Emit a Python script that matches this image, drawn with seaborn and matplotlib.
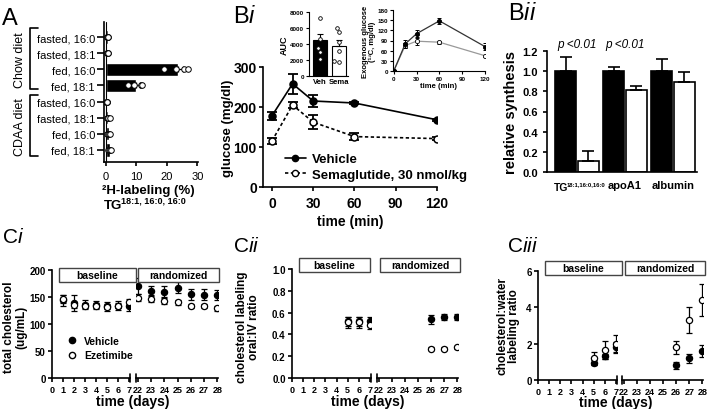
import numpy as np
import pandas as pd
import matplotlib
matplotlib.use("Agg")
import matplotlib.pyplot as plt
import seaborn as sns
from matplotlib.patches import Rectangle
from matplotlib.lines import Line2D

# ---------------- data ----------------
# Panel A
A_labels = ["fasted, 16:0", "fasted, 18:1", "fed, 16:0", "fed, 18:1"]
A_diets = ["Chow diet", "CDAA diet"]
A_chow_pts = [[0.2, 0.4, 0.6, 0.8], [0.2, 0.3, 0.5, 0.7],
              [19.2, 23.0, 25.5, 27.0], [7.1, 9.3, 11.5, 11.8]]
A_cdaa_pts = [[0.1, 0.2, 0.3, 0.4], [0.3, 0.5, 0.8, 1.2],
              [0.4, 0.7, 1.0, 1.4], [0.6, 0.9, 1.3, 1.8]]

# Panel Bi main
bi_time = [0, 15, 30, 60, 120]
bi_veh = [178, 258, 215, 210, 168]
bi_veh_err = [10, 25, 15, 3, 3]
bi_sema = [115, 205, 162, 126, 121]
bi_sema_err = [8, 8, 17, 8, 3]

# Bi inset AUC
auc_groups = ["Veh", "Sema"]
auc_mean = [4500, 3800]
auc_sem = [700, 650]
auc_veh_pts = [7200, 4600, 3500, 3000, 2100]
auc_sema_pts = [6000, 5500, 4200, 3100, 1900, 1800]

# Bi inset exogenous glucose
exo_time = [0, 15, 30, 60, 120]
exo_veh = [0, 80, 110, 148, 72]
exo_veh_err = [0, 12, 12, 9, 10]
exo_sema = [0, 75, 88, 85, 45]
exo_sema_err = [0, 8, 12, 4, 3]

# Panel Bii
bii_cats = ["TG", "apoA1", "albumin"]
bii_veh = [1.0, 1.0, 1.0]
bii_veh_err = [0.14, 0.04, 0.12]
bii_sema = [0.11, 0.81, 0.89]
bii_sema_err = [0.10, 0.04, 0.10]

# Panel Ci
ci_days = [1, 2, 3, 4, 5, 6, 7, 22, 23, 24, 25, 26, 27, 28]
ci_veh = [144, 139, 136, 135, 133, 134, 133, 171, 161, 160, 167, 155, 154, 154]
ci_veh_err = [10, 14, 8, 8, 8, 8, 8, 15, 10, 10, 10, 10, 10, 9]
ci_eze = [146, 135, 134, 134, 132, 134, 141, 149, 147, 143, 140, 133, 133, 129]
ci_eze_err = [8, 6, 5, 5, 5, 5, 5, 6, 6, 6, 5, 4, 4, 4]

# Panel Cii
cii_days = [5, 6, 7, 26, 27, 28]
cii_veh = [0.52, 0.52, 0.52, 0.54, 0.56, 0.56]
cii_veh_err = [0.04, 0.04, 0.04, 0.04, 0.03, 0.03]
cii_eze = [0.51, 0.51, 0.49, 0.27, 0.27, 0.28]
cii_eze_err = [0.05, 0.05, 0.04, 0.01, 0.01, 0.01]

# Panel Ciii
ciii_days = [5, 6, 7, 26, 27, 28]
ciii_veh = [0.95, 1.3, 1.8, 0.8, 1.2, 1.6]
ciii_veh_err = [0.15, 0.15, 0.3, 0.2, 0.25, 0.35]
ciii_eze = [1.2, 1.65, 2.0, 1.8, 3.3, 4.4]
ciii_eze_err = [0.35, 0.5, 0.45, 0.35, 0.7, 0.9]

# ---------------- style ----------------
sns.set_theme(style="ticks", rc={
    "axes.edgecolor": "black", "axes.linewidth": 1.2,
    "xtick.color": "black", "ytick.color": "black",
    "xtick.major.width": 1.2, "ytick.major.width": 1.2,
    "xtick.major.size": 3, "ytick.major.size": 3,
    "text.color": "black", "axes.labelcolor": "black",
})
plt.rcParams["font.family"] = ["Liberation Sans", "DejaVu Sans"]
plt.rcParams["mathtext.fontset"] = "custom"
plt.rcParams["mathtext.rm"] = "Liberation Sans"
plt.rcParams["mathtext.it"] = "Liberation Sans:italic"

W, H = 709, 410
fig = plt.figure(figsize=(7.09, 4.10), dpi=100)


def add_axes_px(l, t, r, b):
    return fig.add_axes([l / W, 1 - b / H, (r - l) / W, (b - t) / H])


def fline(xs, ys, lw=1.2, color="black"):
    fig.add_artist(Line2D([x / W for x in xs], [1 - y / H for y in ys],
                          transform=fig.transFigure, color=color, lw=lw))


def ftext(x, y, s, **kw):
    return fig.text(x / W, 1 - y / H, s, **kw)


def fbox(l, t, r, b, s):
    fig.add_artist(Rectangle((l / W, 1 - b / H), (r - l) / W, (b - t) / H,
                             transform=fig.transFigure, facecolor="white",
                             edgecolor="#444444", lw=1.0, zorder=5))
    ftext((l + r) / 2, (t + b) / 2, s, ha="center", va="center",
          fontsize=7.5, fontweight="bold", zorder=6)


def bold_ticks(ax, size):
    for lab in ax.get_xticklabels() + ax.get_yticklabels():
        lab.set_fontweight("bold")
        lab.set_fontsize(size)


# ---------------- Panel A ----------------
rows = []
for diet, pts in zip(A_diets, [A_chow_pts, A_cdaa_pts]):
    for lab, p in zip(A_labels, pts):
        for v in p:
            rows.append((f"{diet}|{lab}", v))
dfA = pd.DataFrame(rows, columns=["row", "val"])
orderA = [f"{d}|{l}" for d in A_diets for l in A_labels]

axA = add_axes_px(104, 23, 198, 163)
sns.barplot(data=dfA, x="val", y="row", order=orderA, orient="h", color="black",
            errorbar=None, width=0.82, saturation=1, ax=axA)
statsA = dfA.groupby("row")["val"].agg(["mean", "sem"]).reindex(orderA)
axA.errorbar(statsA["mean"], np.arange(len(orderA)),
             xerr=[np.zeros(len(orderA)), statsA["sem"]], fmt="none",
             ecolor="black", elinewidth=0.9, capsize=2.5, capthick=0.9, zorder=3)
sns.stripplot(data=dfA, x="val", y="row", order=orderA, orient="h", jitter=False,
              color="white", edgecolor="black", linewidth=0.7, size=4,
              ax=axA, zorder=4)
axA.axvline(0, color="black", lw=0.8)
axA.set_ylim(7.75, -0.93)
axA.set_xlim(-0.66, 30.2)
axA.set_yticks(range(len(orderA)))
axA.set_yticklabels(A_labels * 2, fontsize=8)
axA.set_xticks([0, 10, 20, 30])
axA.tick_params(axis="x", labelsize=8)
axA.tick_params(axis="y", length=5, pad=1.5)
axA.set_xlabel("")
axA.set_ylabel("")
sns.despine(ax=axA)
ftext(148, 191, "\u00b2H-labeling (%)", ha="center", va="center", fontsize=9.5,
      fontweight="bold")
ftext(104, 206, "TG", ha="left", va="center", fontsize=9.5, fontweight="bold")
ftext(121, 201, "18:1, 16:0, 16:0", ha="left", va="center", fontsize=6.5,
      fontweight="bold")
# diet brackets
fline([38, 30, 30, 38], [29, 29, 90, 90])
fline([38, 30, 30, 38], [96, 96, 157, 157])
ftext(20, 60, "Chow diet", rotation=90, ha="center", va="center", fontsize=9)
ftext(20, 127, "CDAA diet", rotation=90, ha="center", va="center", fontsize=9)
ftext(2, 25, "A", fontsize=17, ha="left", va="baseline")

# ---------------- Panel Bi main ----------------
dfBi = pd.DataFrame({
    "time": bi_time * 2,
    "glucose": bi_veh + bi_sema,
    "err": bi_veh_err + bi_sema_err,
    "group": ["Vehicle"] * len(bi_time) + ["Semaglutide, 30 nmol/kg"] * len(bi_time),
})
axBi = add_axes_px(263, 68, 437, 188)
styles = {"Vehicle": ("-", "black"), "Semaglutide, 30 nmol/kg": ((0, (2, 1.5)), "white")}
for grp, (ls, mfc) in styles.items():
    d = dfBi[dfBi.group == grp]
    axBi.errorbar(d.time, d.glucose, yerr=d.err, fmt="none", ecolor="black",
                  elinewidth=1.3, capsize=3.5, capthick=1.3, zorder=2)
    sns.lineplot(data=d, x="time", y="glucose", color="black", lw=1.2,
                 linestyle=ls, marker="o", markersize=5, markerfacecolor=mfc,
                 markeredgecolor="black", markeredgewidth=1.1, errorbar=None,
                 ax=axBi, legend=False, zorder=3)
axBi.set_xlim(-6.5, 120)
axBi.set_ylim(0, 300)
axBi.set_xticks([0, 30, 60, 90, 120])
axBi.set_yticks([0, 100, 200, 300])
bold_ticks(axBi, 10)
axBi.tick_params(axis="y", pad=1.5)
axBi.set_xlabel("time (min)", fontsize=10, fontweight="bold", labelpad=3)
axBi.set_ylabel("glucose (mg/dl)", fontsize=9.5, fontweight="bold", labelpad=0)
sns.despine(ax=axBi)
h1 = Line2D([], [], color="black", lw=1.2, marker="o", markersize=4.5,
            markerfacecolor="black")
h2 = Line2D([], [], color="black", lw=1.2, linestyle=(0, (2, 1.5)), marker="o",
            markersize=4.5, markerfacecolor="white")
fig.legend([h1, h2], ["Vehicle", "Semaglutide, 30 nmol/kg"], loc="center left",
           bbox_to_anchor=(278 / W, 1 - 168 / H), frameon=False,
           prop={"weight": "bold", "size": 9.5}, handlelength=1.6,
           handletextpad=0.5, labelspacing=0.25, borderpad=0)
ftext(233, 23, r"B$\mathit{i}$", fontsize=17, ha="left", va="baseline")

# ---------------- Bi inset AUC ----------------
axAUC = add_axes_px(309, 13, 348, 77)
dfAUCm = pd.DataFrame({"grp": auc_groups, "auc": auc_mean})
sns.barplot(data=dfAUCm, x="grp", y="auc", hue="grp", order=auc_groups,
            palette={"Veh": "black", "Sema": "white"}, edgecolor="black",
            linewidth=0.8, width=0.75, saturation=1, errorbar=None,
            legend=False, ax=axAUC)
axAUC.errorbar([0, 1], auc_mean, yerr=[[0, 0], auc_sem], fmt="none",
               ecolor="black", elinewidth=0.8, capsize=2, capthick=0.8)
dfAUCp = pd.DataFrame({
    "grp": ["Veh"] * len(auc_veh_pts) + ["Sema"] * len(auc_sema_pts),
    "auc": auc_veh_pts + auc_sema_pts})
sns.swarmplot(data=dfAUCp, x="grp", y="auc", order=auc_groups, color="white",
              edgecolor="black", linewidth=0.6, size=2.6, ax=axAUC, zorder=4)
axAUC.set_xlim(-0.6, 1.5)
axAUC.set_ylim(0, 8000)
axAUC.set_yticks([0, 2000, 4000, 6000, 8000])
axAUC.tick_params(length=2, width=0.8, pad=1.5)
axAUC.tick_params(axis="x", length=0)
bold_ticks(axAUC, 4.5)
for lab in axAUC.get_xticklabels():
    lab.set_fontsize(5.5)
axAUC.set_xlabel("")
axAUC.set_ylabel("AUC", fontsize=6.5, fontweight="bold", labelpad=1)
for s in ["left", "bottom"]:
    axAUC.spines[s].set_linewidth(0.8)
sns.despine(ax=axAUC)

# ---------------- Bi inset exogenous glucose ----------------
axExo = add_axes_px(393, 11, 485, 72)
dfExo = pd.DataFrame({"time": exo_time * 2, "g": exo_veh + exo_sema,
                      "err": exo_veh_err + exo_sema_err,
                      "group": ["Veh"] * 5 + ["Sema"] * 5})
for grp, lc, mfc in [("Sema", "#999999", "white"), ("Veh", "#333333", "black")]:
    d = dfExo[dfExo.group == grp]
    axExo.errorbar(d.time, d.g, yerr=d.err, fmt="none", ecolor="black",
                   elinewidth=0.7, capsize=1.5, capthick=0.7)
    sns.lineplot(data=d, x="time", y="g", color=lc, lw=0.9, marker="o",
                 markersize=3, markerfacecolor=mfc, markeredgecolor="black",
                 markeredgewidth=0.6, errorbar=None, ax=axExo, legend=False)
axExo.set_xlim(-1, 120)
axExo.set_ylim(0, 180)
axExo.set_xticks([0, 30, 60, 90, 120])
axExo.set_yticks([0, 30, 60, 90, 120, 150, 180])
axExo.tick_params(length=2, width=0.8, pad=1.5)
bold_ticks(axExo, 4.5)
axExo.set_xlabel("time (min)", fontsize=5.5, fontweight="bold", labelpad=1)
axExo.set_ylabel("Exogenous glucose\n(\u00b9\u00b3C, mg/dl)", fontsize=5.5,
                 fontweight="bold", labelpad=1, linespacing=1.0)
for s in ["left", "bottom"]:
    axExo.spines[s].set_linewidth(0.8)
sns.despine(ax=axExo)

# ---------------- Panel Bii ----------------
dfBii = pd.DataFrame({"cat": bii_cats * 2, "val": bii_veh + bii_sema,
                      "group": ["Vehicle"] * 3 + ["Sema"] * 3})
errs_bii = bii_veh_err + bii_sema_err
axBii = add_axes_px(547, 52, 697, 173)
sns.barplot(data=dfBii, x="cat", y="val", hue="group", order=bii_cats,
            hue_order=["Vehicle", "Sema"],
            palette={"Vehicle": "black", "Sema": "white"}, edgecolor="black",
            linewidth=1.2, width=0.95, gap=0.06, saturation=1, errorbar=None,
            legend=False, ax=axBii)
bars = [p for p in axBii.patches if isinstance(p, Rectangle)]
bx = [p.get_x() + p.get_width() / 2 for p in bars]
bh = [p.get_height() for p in bars]
axBii.errorbar(bx, bh, yerr=[np.zeros(len(bh)), errs_bii], fmt="none",
               ecolor="black", elinewidth=1.2, capsize=4, capthick=1.2, zorder=1)
axBii.set_xlim(-0.625, 2.5)
axBii.set_ylim(0, 1.2)
axBii.set_yticks([0, 0.2, 0.4, 0.6, 0.8, 1.0, 1.2])
axBii.set_yticklabels([f"{v:.1f}" for v in [0, 0.2, 0.4, 0.6, 0.8, 1.0, 1.2]])
axBii.set_xticks([0, 1, 2])
axBii.set_xticklabels(["", "apoA1", "albumin"])
axBii.tick_params(axis="x", length=0, pad=6)
bold_ticks(axBii, 8)
axBii.set_xlabel("")
axBii.set_ylabel("relative synthesis", fontsize=10.5, fontweight="bold", labelpad=3)
for i in [0, 1]:
    axBii.text(i, 1.27, "p <0.01", ha="center", va="center", style="italic",
               fontsize=8.5)
sns.despine(ax=axBii)
ftext(554, 188, "TG", ha="left", va="center", fontsize=7.5, fontweight="bold")
ftext(567, 185, "18:1,16:0,16:0", ha="left", va="center", fontsize=4.2,
      fontweight="bold")
ftext(508, 20, r"B$\mathit{ii}$", fontsize=17, ha="left", va="baseline")


# ---------------- Panels C ----------------
def c_panel(px, top, bottom, ylim, yticks, yfmt, days, veh, veh_err, eze, eze_err):
    xl0, xl1, xr0, xr1 = px
    axL = add_axes_px(xl0, top, xl1, bottom)
    axR = add_axes_px(xr0, top, xr1, bottom)
    df = pd.DataFrame({"day": days * 2, "val": veh + eze, "err": veh_err + eze_err,
                       "group": ["Vehicle"] * len(days) + ["Ezetimibe"] * len(days)})
    for ax, sel in [(axL, df.day <= 7), (axR, df.day >= 22)]:
        for grp, fc in [("Vehicle", "black"), ("Ezetimibe", "white")]:
            d = df[sel & (df.group == grp)]
            if len(d) == 0:
                continue
            ax.errorbar(d.day, d.val, yerr=d.err, fmt="none", ecolor="black",
                        elinewidth=0.9, capsize=2.5, capthick=0.9, zorder=2)
            sns.scatterplot(data=d, x="day", y="val", color=fc, edgecolor="black",
                            linewidth=0.9, s=20, ax=ax, zorder=3, legend=False)
        ax.set_ylim(*ylim)
        ax.set_xlabel("")
        ax.set_ylabel("")
    axL.set_xlim(0, 7.1)
    axR.set_xlim(21.85, 28.05)
    axL.set_xticks(range(0, 8))
    axR.set_xticks(range(22, 29))
    axL.set_yticks(yticks)
    axL.set_yticklabels([yfmt.format(v) for v in yticks])
    axR.set_yticks([])
    sns.despine(ax=axL)
    sns.despine(ax=axR, left=True)
    for ax in (axL, axR):
        bold_ticks(ax, 7)
        for lab in ax.get_xticklabels():
            lab.set_fontsize(6.5)
        ax.tick_params(axis="x", pad=2)
        ax.tick_params(axis="y", pad=1.5)
    axL.plot([1, 1], [-0.035, 0.035], transform=axL.transAxes, color="black",
             lw=1.2, clip_on=False)
    axR.plot([0, 0], [-0.035, 0.035], transform=axR.transAxes, color="black",
             lw=1.2, clip_on=False)
    return axL, axR


c_panel((52, 130, 136, 218), 271, 379, (0, 200), [0, 50, 100, 150, 200], "{:g}",
        ci_days, ci_veh, ci_veh_err, ci_eze, ci_eze_err)
fbox(59, 269, 136, 283, "baseline")
fbox(138, 269, 219, 283, "randomized")
ftext(15, 327, "total cholesterol\n(ug/mL)", rotation=90, ha="center",
      va="center", fontsize=8.5, fontweight="bold", linespacing=1.0)
ftext(133, 402, "time (days)", ha="center", va="center", fontsize=10,
      fontweight="bold")
hv = Line2D([], [], ls="", marker="o", markersize=4.5, markerfacecolor="black",
            markeredgecolor="black")
he = Line2D([], [], ls="", marker="o", markersize=4.5, markerfacecolor="white",
            markeredgecolor="black")
fig.legend([hv, he], ["Vehicle", "Ezetimibe"], loc="center left",
           bbox_to_anchor=(62 / W, 1 - 349 / H), frameon=False,
           prop={"weight": "bold", "size": 7.5}, handlelength=1.0,
           handletextpad=0.6, labelspacing=0.45, borderpad=0)
ftext(2, 243, r"C$\mathit{i}$", fontsize=15, ha="left", va="baseline")

c_panel((292, 371, 377, 458), 270, 379, (0, 1.0), [0, 0.2, 0.4, 0.6, 0.8, 1.0],
        "{:.1f}", cii_days, cii_veh, cii_veh_err, cii_eze, cii_eze_err)
fbox(299, 259, 370, 273, "baseline")
fbox(380, 259, 460, 273, "randomized")
ftext(248, 327, "cholesterol labeling\noral:IV ratio", rotation=90, ha="center",
      va="center", fontsize=8.5, fontweight="bold", linespacing=1.0)
ftext(368, 402, "time (days)", ha="center", va="center", fontsize=10,
      fontweight="bold")
ftext(233, 252, r"C$\mathit{ii}$", fontsize=15, ha="left", va="baseline")

c_panel((538, 617, 622, 703), 272, 381, (0, 6), [0, 2, 4, 6], "{:g}",
        ciii_days, ciii_veh, ciii_veh_err, ciii_eze, ciii_eze_err)
fbox(545, 262, 622, 276, "baseline")
fbox(625, 262, 705, 276, "randomized")
ftext(508, 326, "cholesterol:water\nlabeling ratio", rotation=90, ha="center",
      va="center", fontsize=8.5, fontweight="bold", linespacing=1.0)
ftext(616, 403, "time (days)", ha="center", va="center", fontsize=10,
      fontweight="bold")
ftext(507, 252, r"C$\mathit{iii}$", fontsize=15, ha="left", va="baseline")

fig.savefig("out.png", dpi=100)
